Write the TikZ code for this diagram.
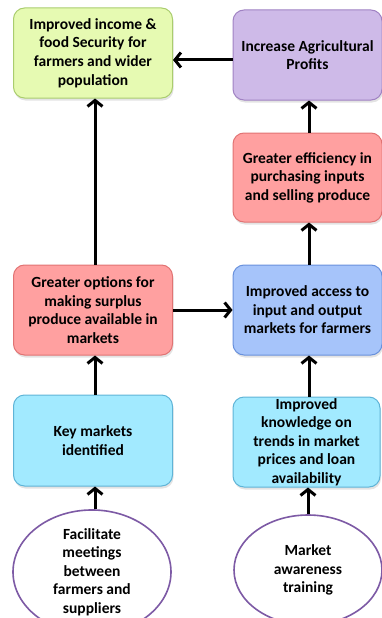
\documentclass[tikz,border=0pt]{standalone}
\usepackage{fontspec}
\setmainfont{Carlito}
\usetikzlibrary{arrows.meta,shapes.geometric,shadows}

\definecolor{greenfill}{RGB}{230,250,178}
\definecolor{greenline}{RGB}{170,205,110}
\definecolor{purplefill}{RGB}{206,186,232}
\definecolor{purpleline}{RGB}{160,130,195}
\definecolor{redfill}{RGB}{255,160,160}
\definecolor{redline}{RGB}{225,115,115}
\definecolor{bluefill}{RGB}{166,196,250}
\definecolor{blueline}{RGB}{105,145,220}
\definecolor{cyanfill}{RGB}{162,234,255}
\definecolor{cyanline}{RGB}{95,180,215}
\definecolor{ovalline}{RGB}{125,90,165}

\tikzset{
  txt/.style={font=\fontsize{15.5}{18.6}\selectfont\bfseries, text=black, align=center, inner sep=0pt},
  box/.style={txt, rectangle, rounded corners=11pt, line width=1pt,
    drop shadow={opacity=0.22, shadow xshift=1pt, shadow yshift=-2.5pt}},
  leftbox/.style={box, minimum width=159pt, minimum height=90pt},
  rightbox/.style={box, minimum width=149pt, minimum height=90pt},
  oval/.style={txt, ellipse, draw=ovalline, line width=1.6pt, fill=white},
  arr/.style={line width=3pt, -{Straight Barb[length=6pt,width=15pt]}}
}

\begin{document}
\begin{tikzpicture}[x=1pt,y=-1pt]
  \useasboundingbox (0,0) rectangle (382,618);
  \clip (0,0) rectangle (382,618);

  % outcome boxes
  \node[leftbox, fill=greenfill, draw=greenline] (income) at (93,53)
    {Improved income \&\\food Security for\\farmers and wider\\population};
  \node[rightbox, fill=purplefill, draw=purpleline] (profits) at (307.5,55)
    {Increase Agricultural\\Profits};
  \node[rightbox, fill=redfill, draw=redline, minimum height=89pt] (efficiency) at (307.5,177.5)
    {Greater efficiency in\\purchasing inputs\\and selling produce};
  \node[leftbox, fill=redfill, draw=redline] (options) at (93,310)
    {Greater options for\\making surplus\\produce available in\\markets};
  \node[rightbox, fill=bluefill, draw=blueline] (access) at (307.5,310)
    {Improved access to\\input and output\\markets for farmers};
  \node[leftbox, fill=cyanfill, draw=cyanline, minimum height=91pt] (keymarkets) at (93,440.5)
    {Key markets\\identified};
  \node[rightbox, fill=cyanfill, draw=cyanline, minimum width=147pt] (knowledge) at (306.5,442)
    {Improved\\knowledge on\\trends in market\\prices and loan\\availability};

  % activities
  \node[oval, minimum width=158pt, minimum height=110pt] (meetings) at (92,572)
    {Facilitate\\meetings\\between\\farmers and\\suppliers};
  \node[oval, minimum width=148pt, minimum height=110pt] (training) at (308,570)
    {Market\\awareness\\training};

  % connectors
  \draw[arr] ([yshift=-5pt]profits.west) -- ([yshift=-5pt]profits.west -| income.east);
  \draw[arr] ([xshift=1.5pt]efficiency.north) -- ([xshift=1.5pt]profits.south);
  \draw[arr] ([xshift=1.5pt]access.north) -- ([xshift=1.5pt]efficiency.south);
  \draw[arr] (options.east) -- (access.west);
  \draw[arr] ([xshift=2pt]options.north) -- ([xshift=2pt]income.south);
  \draw[arr] ([xshift=2pt]keymarkets.north) -- ([xshift=2pt]options.south);
  \draw[arr] ([xshift=2.5pt]knowledge.north) -- ([xshift=2.5pt]knowledge.north |- access.south);
  \draw[arr] ([xshift=3pt]meetings.north) -- ([xshift=3pt]meetings.north |- keymarkets.south);
  \draw[arr] (training.north) -- (training.north |- knowledge.south);
\end{tikzpicture}
\end{document}
